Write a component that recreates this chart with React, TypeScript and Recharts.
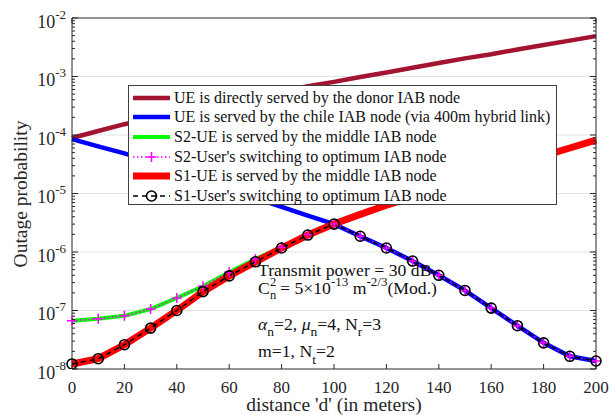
import { LineChart, Line, XAxis, YAxis, CartesianGrid, Legend } from 'recharts';

// distance from the donor (m) and outage probabilities
const distance = [0, 10, 20, 30, 40, 50, 60, 70, 80, 90, 100, 110, 120, 130, 140, 150, 160, 170, 180, 190, 200];

const donorLink = [8.9e-5, 1.17e-4, 1.53e-4, 1.9e-4, 2.34e-4, 2.9e-4, 3.55e-4, 4.4e-4, 5.5e-4, 6.8e-4, 8.1e-4, 9.8e-4, 1.17e-3, 1.41e-3, 1.7e-3, 2.04e-3, 2.4e-3, 2.9e-3, 3.45e-3, 4.1e-3, 4.9e-3];
const chileLink = [8.5e-5, 6.4e-5, 4.85e-5, 3.5e-5, 2.45e-5, 1.7e-5, 1.19e-5, 8.3e-6, 5.9e-6, 4.2e-6, 3.0e-6, 1.86e-6, 1.17e-6, 7.0e-7, 4.0e-7, 2.2e-7, 1.1e-7, 5.5e-8, 2.8e-8, 1.65e-8, 1.37e-8];
const s2Middle = [6.7e-8, 7.2e-8, 8.1e-8, 1.06e-7, 1.64e-7, 2.6e-7, 4.5e-7, 7.6e-7, 1.2e-6, 2.0e-6, 3.05e-6, 4.5e-6, 6.4e-6, 8.8e-6, 1.22e-5, 1.68e-5, 2.3e-5, 3.2e-5, 4.4e-5, 6.0e-5, 8.2e-5];
const s2Switch = [6.7e-8, 7.2e-8, 8.1e-8, 1.06e-7, 1.64e-7, 2.6e-7, 4.5e-7, 7.6e-7, 1.2e-6, 2.0e-6, 3.0e-6, 1.86e-6, 1.17e-6, 7.0e-7, 4.0e-7, 2.2e-7, 1.1e-7, 5.5e-8, 2.8e-8, 1.65e-8, 1.37e-8];
const s1Middle = [1.22e-8, 1.5e-8, 2.6e-8, 5.0e-8, 1.0e-7, 2.1e-7, 3.9e-7, 6.8e-7, 1.17e-6, 1.95e-6, 3.0e-6, 4.4e-6, 6.3e-6, 8.7e-6, 1.2e-5, 1.66e-5, 2.3e-5, 3.2e-5, 4.4e-5, 6.0e-5, 8.2e-5];
const s1Switch = [1.22e-8, 1.5e-8, 2.6e-8, 5.0e-8, 1.0e-7, 2.1e-7, 3.9e-7, 6.8e-7, 1.17e-6, 1.95e-6, 3.0e-6, 1.86e-6, 1.17e-6, 7.0e-7, 4.0e-7, 2.2e-7, 1.1e-7, 5.5e-8, 2.8e-8, 1.65e-8, 1.37e-8];

const legendNames = [
  'UE is directly served by the donor IAB node',
  'UE is served by the chile IAB node (via 400m hybrid link)',
  'S2-UE is served by the middle IAB node',
  "S2-User's switching to optimum IAB node",
  'S1-UE is served by the middle IAB node',
  "S1-User's switching to optimum IAB node",
];

const xTicks = [0, 20, 40, 60, 80, 100, 120, 140, 160, 180, 200];
const decades = [1e-8, 1e-7, 1e-6, 1e-5, 1e-4, 1e-3, 1e-2];
const gridDecades = [1e-7, 1e-6, 1e-5, 1e-4, 1e-3];
const minorSteps = [2, 3, 4, 5, 6, 7, 8, 9];
const yTicks = [...decades, ...decades.slice(0, -1).flatMap((d) => minorSteps.map((m) => m * d))];

const rows = distance.map((d, i) => ({
  d,
  donor: donorLink[i],
  chile: chileLink[i],
  s2m: s2Middle[i],
  s2s: s2Switch[i],
  s1m: s1Middle[i],
  s1s: s1Switch[i],
}));

const INK = '#262626';
const SERIF = '"Liberation Serif", "Times New Roman", serif';

type Marker = 'plus' | 'circle' | null;
const series: { key: string; color: string; width: number; dash?: string; marker: Marker }[] = [
  { key: 'donor', color: '#a2142f', width: 4.5, marker: null },
  { key: 'chile', color: '#0000ff', width: 4.5, marker: null },
  { key: 's2m', color: '#00ff00', width: 4, marker: null },
  { key: 's2s', color: '#ff00ff', width: 1.5, dash: '1.5 2.5', marker: 'plus' },
  { key: 's1m', color: '#ff0000', width: 7, marker: null },
  { key: 's1s', color: '#000000', width: 1.5, dash: '5 4', marker: 'circle' },
];

function markerShape(kind: Marker, cx: number, cy: number, color: string, key?: string) {
  if (kind === 'plus') {
    return (
      <path key={key} d={`M${cx - 5},${cy}H${cx + 5}M${cx},${cy - 5}V${cy + 5}`} stroke={color} strokeWidth={1.5} fill="none" />
    );
  }
  if (kind === 'circle') {
    return <circle key={key} cx={cx} cy={cy} r={5} stroke={color} strokeWidth={1.6} fill="none" />;
  }
  return <g key={key} />;
}

function isMajor(v: number) {
  const e = Math.log10(v);
  return Math.abs(e - Math.round(e)) < 1e-6;
}

function LeftTick({ x, y, payload }: any) {
  const v = payload.value;
  const major = isMajor(v);
  return (
    <g>
      <line x1={x} x2={x + (major ? 6 : 3)} y1={y} y2={y} stroke={INK} />
      {major && (
        <text x={x - 6} y={y + 9.5} textAnchor="end" fontSize={18} fill={INK} fontFamily={SERIF}>
          10
          <tspan dy={-9} fontSize={13}>{`${Math.round(Math.log10(v))}`}</tspan>
        </text>
      )}
    </g>
  );
}

function RightTick({ x, y, payload }: any) {
  const major = isMajor(payload.value);
  return <line x1={x} x2={x - (major ? 6 : 3)} y1={y} y2={y} stroke={INK} />;
}

function BottomTick({ x, y, payload }: any) {
  return (
    <g>
      <line x1={x} x2={x} y1={y} y2={y - 5} stroke={INK} />
      <text x={x} y={y + 23.5} textAnchor="middle" fontSize={17} fill={INK} fontFamily={SERIF}>
        {payload.value}
      </text>
    </g>
  );
}

function TopTick({ x, y }: any) {
  return <line x1={x} x2={x} y1={y} y2={y + 5} stroke={INK} />;
}

function LegendBox() {
  return (
    <div
      style={{
        boxSizing: 'border-box',
        width: 429,
        height: 120,
        border: '1px solid #404040',
        background: '#fff',
        paddingTop: 2,
        fontFamily: SERIF,
        fontSize: 16,
        color: '#111',
      }}
    >
      {series.map((s, i) => (
        <div key={s.key} style={{ display: 'flex', alignItems: 'center', height: 19.6, whiteSpace: 'nowrap' }}>
          <svg width={45} height={14} style={{ flexShrink: 0 }}>
            <line x1={4} x2={41} y1={7} y2={7} stroke={s.color} strokeWidth={s.width} strokeDasharray={s.dash} />
            {markerShape(s.marker, 22.5, 7, s.color)}
          </svg>
          <span>{legendNames[i]}</span>
        </div>
      ))}
    </div>
  );
}

export default function App() {
  return (
    <div style={{ position: 'fixed', left: 0, top: 0, width: 615, height: 415, background: '#fff' }}>
      <div style={{ position: 'absolute', left: 0, top: 0 }}>
        <LineChart width={615} height={415} data={rows} margin={{ top: 17, right: 18, bottom: 45, left: 71 }}>
          <CartesianGrid vertical={false} horizontalValues={gridDecades} stroke="#e3e3e3" />
          <XAxis
            dataKey="d"
            type="number"
            domain={[0, 200]}
            ticks={xTicks}
            interval={0}
            height={1}
            tickSize={0}
            tickMargin={0}
            tickLine={false}
            axisLine={{ stroke: INK }}
            tick={<BottomTick />}
          />
          <XAxis
            xAxisId="t"
            orientation="top"
            type="number"
            domain={[0, 200]}
            ticks={xTicks}
            interval={0}
            height={1}
            tickSize={0}
            tickMargin={0}
            tickLine={false}
            axisLine={{ stroke: INK }}
            tick={<TopTick />}
          />
          <YAxis
            type="number"
            scale="log"
            domain={[1e-8, 1e-2]}
            allowDataOverflow
            ticks={yTicks}
            interval={0}
            width={1}
            tickSize={0}
            tickMargin={0}
            tickLine={false}
            axisLine={{ stroke: INK }}
            tick={<LeftTick />}
          />
          <YAxis
            yAxisId="r"
            orientation="right"
            type="number"
            scale="log"
            domain={[1e-8, 1e-2]}
            allowDataOverflow
            ticks={yTicks}
            interval={0}
            width={1}
            tickSize={0}
            tickMargin={0}
            tickLine={false}
            axisLine={{ stroke: INK }}
            tick={<RightTick />}
          />
          {series.map((s, i) => (
            <Line
              key={s.key}
              dataKey={s.key}
              name={legendNames[i]}
              type="linear"
              stroke={s.color}
              strokeWidth={s.width}
              strokeDasharray={s.dash}
              isAnimationActive={false}
              activeDot={false}
              dot={
                s.marker
                  ? (p: any) => markerShape(s.marker, p.cx, p.cy, s.color, `${s.key}-${p.index}`)
                  : false
              }
            />
          ))}
          <Legend
            layout="vertical"
            align="center"
            verticalAlign="middle"
            content={<LegendBox />}
            wrapperStyle={{ position: 'absolute', left: 128, top: 85, width: 429, height: 120 }}
          />
        </LineChart>
      </div>
      <svg
        width={615}
        height={415}
        style={{ position: 'absolute', left: 0, top: 0, pointerEvents: 'none' }}
        fontFamily={SERIF}
        fill={INK}
      >
        <text transform="translate(27,194) rotate(-90)" textAnchor="middle" fontSize={19.5}>
          Outage probability
        </text>
        <text x={334} y={411} textAnchor="middle" fontSize={19.5}>
          distance 'd' (in meters)
        </text>
        <g fontSize={17.7} fill="#111">
          <text x={258} y={275.5}>Transmit power = 30 dB</text>
          <text x={258} y={294}>
            C
            <tspan x={270} dy={-8} fontSize={12.5}>2</tspan>
            <tspan x={270} dy={13} fontSize={12.5}>n</tspan>
            <tspan x={280} dy={-5}>{'= 5\u00d710'}</tspan>
            <tspan dy={-8} fontSize={13}>-13</tspan>
            <tspan dy={8}>{' m'}</tspan>
            <tspan dy={-8} fontSize={13}>-2/3</tspan>
            <tspan dy={8}>(Mod.)</tspan>
          </text>
          <text x={258} y={330}>
            <tspan fontStyle="italic">{'\u03b1'}</tspan>
            <tspan dy={6} fontSize={13.5}>n</tspan>
            <tspan dy={-6}>{'=2, '}</tspan>
            <tspan fontStyle="italic">{'\u03bc'}</tspan>
            <tspan dy={6} fontSize={13.5}>n</tspan>
            <tspan dy={-6}>{'=4, N'}</tspan>
            <tspan dy={6} fontSize={13.5}>r</tspan>
            <tspan dy={-6}>=3</tspan>
          </text>
          <text x={258} y={357}>
            {'m=1, N'}
            <tspan dy={7} fontSize={13.5}>t</tspan>
            <tspan dy={-7}>=2</tspan>
          </text>
        </g>
      </svg>
    </div>
  );
}
